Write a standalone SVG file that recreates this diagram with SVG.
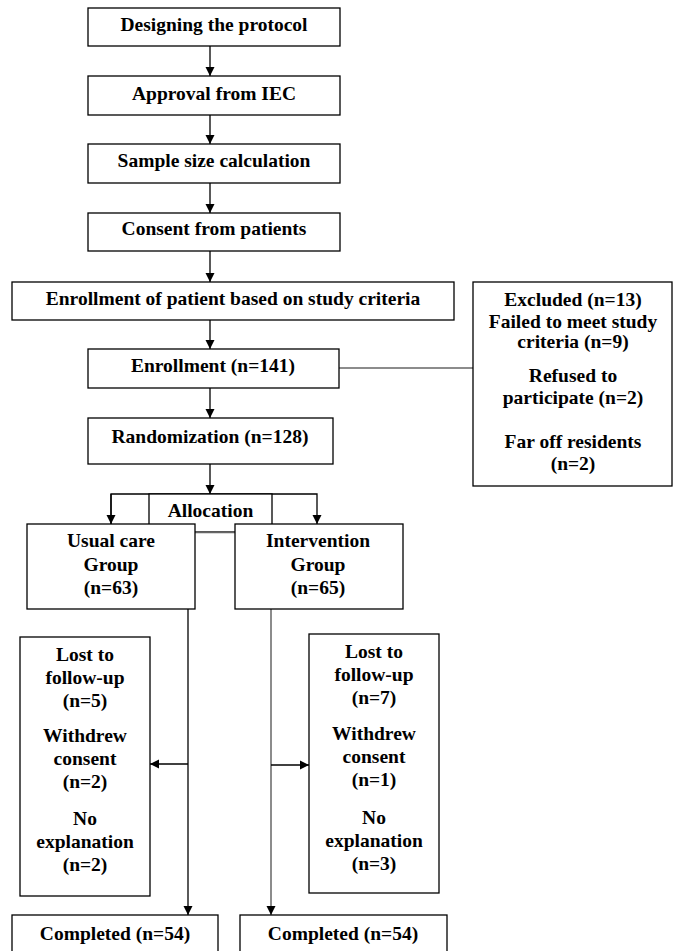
<svg xmlns="http://www.w3.org/2000/svg" width="673" height="951" viewBox="0 0 673 951">
<style>
.b{fill:#fff;stroke:#000;stroke-width:1.3}
.t{font-weight:bold;font-size:19.5px;text-anchor:middle;fill:#000}
.c{fill:none;stroke:#000;stroke-width:1.3}
.g{fill:none;stroke:#666;stroke-width:1.5}
</style>
<defs>
<marker id="ah" markerWidth="10" markerHeight="10" refX="9" refY="5" orient="auto" markerUnits="userSpaceOnUse"><path d="M0,0.5 L9,5 L0,9.5 z" fill="#000"/></marker>
</defs>
<g id="connectors">
<line class="c" x1="210" y1="46" x2="210" y2="76" marker-end="url(#ah)"/>
<line class="c" x1="210" y1="115" x2="210" y2="144" marker-end="url(#ah)"/>
<line class="c" x1="210" y1="183" x2="210" y2="213" marker-end="url(#ah)"/>
<line class="c" x1="210" y1="251" x2="210" y2="282" marker-end="url(#ah)"/>
<line class="c" x1="210" y1="320" x2="210" y2="349" marker-end="url(#ah)"/>
<line class="c" x1="210" y1="388" x2="210" y2="418" marker-end="url(#ah)"/>
<line class="g" x1="339" y1="368" x2="473" y2="368"/>
<line class="c" x1="210" y1="464" x2="210" y2="494" marker-end="url(#ah)"/>
<polyline class="c" points="111,524 111,494 317,494 317,524" marker-end="url(#ah)"/>
<line class="c" x1="111" y1="494" x2="111" y2="524" marker-end="url(#ah)"/>
<line class="c" x1="188" y1="609" x2="188" y2="915" marker-end="url(#ah)"/>
<line class="c" x1="188" y1="764" x2="150" y2="764" marker-end="url(#ah)"/>
<line class="g" x1="271" y1="609" x2="271" y2="915" marker-end="url(#ah)"/>
<line class="c" x1="271" y1="765" x2="309" y2="765" marker-end="url(#ah)"/>
</g>
<g font-family="Liberation Serif, Times New Roman, serif">
<g id="n1"><rect class="b" x="88" y="8" width="252" height="38"/><text class="t" x="214" y="31">Designing the protocol</text></g>
<g id="n2"><rect class="b" x="88" y="76" width="252" height="39"/><text class="t" x="214" y="99.5">Approval from IEC</text></g>
<g id="n3"><rect class="b" x="88" y="144" width="252" height="39"/><text class="t" x="214" y="166.5">Sample size calculation</text></g>
<g id="n4"><rect class="b" x="88" y="213" width="252" height="38"/><text class="t" x="214" y="235">Consent from patients</text></g>
<g id="n5"><rect class="b" x="12" y="282" width="442" height="38"/><text class="t" x="233" y="304.5">Enrollment of patient based on study criteria</text></g>
<g id="n6"><rect class="b" x="88" y="349" width="251" height="39"/><text class="t" x="213" y="372">Enrollment (n=141)</text></g>
<g id="n7"><rect class="b" x="88" y="418" width="245" height="46"/><text class="t" x="210" y="443">Randomization (n=128)</text></g>
<g id="excluded"><rect class="b" x="473" y="282" width="199" height="204"/>
<text class="t" x="573" y="305.5">Excluded (n=13)</text>
<text class="t" x="573" y="327.5">Failed to meet study</text>
<text class="t" x="573" y="348">criteria (n=9)</text>
<text class="t" x="573" y="382">Refused to</text>
<text class="t" x="573" y="403.5">participate (n=2)</text>
<text class="t" x="573" y="448">Far off residents</text>
<text class="t" x="573" y="470">(n=2)</text>
</g>
<g id="allocation"><rect fill="#fff" stroke="#000" stroke-width="1.3" x="149" y="494" width="123" height="38"/><line class="g" x1="149" y1="532.5" x2="272" y2="532.5"/><text class="t" x="210.5" y="517">Allocation</text></g>
<g id="usual"><rect class="b" x="27" y="524" width="168" height="85"/>
<text class="t" x="111" y="547">Usual care</text>
<text class="t" x="111" y="571">Group</text>
<text class="t" x="111" y="594">(n=63)</text></g>
<g id="intervention"><rect class="b" x="235" y="524" width="168" height="85"/>
<text class="t" x="318" y="547">Intervention</text>
<text class="t" x="318" y="571">Group</text>
<text class="t" x="318" y="594">(n=65)</text></g>
<g id="lost1"><rect class="b" x="20" y="637" width="130" height="259"/>
<text class="t" x="85" y="661">Lost to</text>
<text class="t" x="85" y="684">follow-up</text>
<text class="t" x="85" y="707">(n=5)</text>
<text class="t" x="85" y="742">Withdrew</text>
<text class="t" x="85" y="765">consent</text>
<text class="t" x="85" y="788">(n=2)</text>
<text class="t" x="85" y="825">No</text>
<text class="t" x="85" y="848">explanation</text>
<text class="t" x="85" y="871">(n=2)</text></g>
<g id="lost2"><rect class="b" x="309" y="634" width="130" height="259"/>
<text class="t" x="374" y="658">Lost to</text>
<text class="t" x="374" y="681">follow-up</text>
<text class="t" x="374" y="704">(n=7)</text>
<text class="t" x="374" y="740">Withdrew</text>
<text class="t" x="374" y="763">consent</text>
<text class="t" x="374" y="786">(n=1)</text>
<text class="t" x="374" y="824">No</text>
<text class="t" x="374" y="847">explanation</text>
<text class="t" x="374" y="870">(n=3)</text></g>
<g id="comp1"><rect class="b" x="12" y="915" width="206" height="40"/><text class="t" x="115" y="940">Completed (n=54)</text></g>
<g id="comp2"><rect class="b" x="240" y="915" width="207" height="40"/><text class="t" x="343" y="940">Completed (n=54)</text></g>
</g>
</svg>
